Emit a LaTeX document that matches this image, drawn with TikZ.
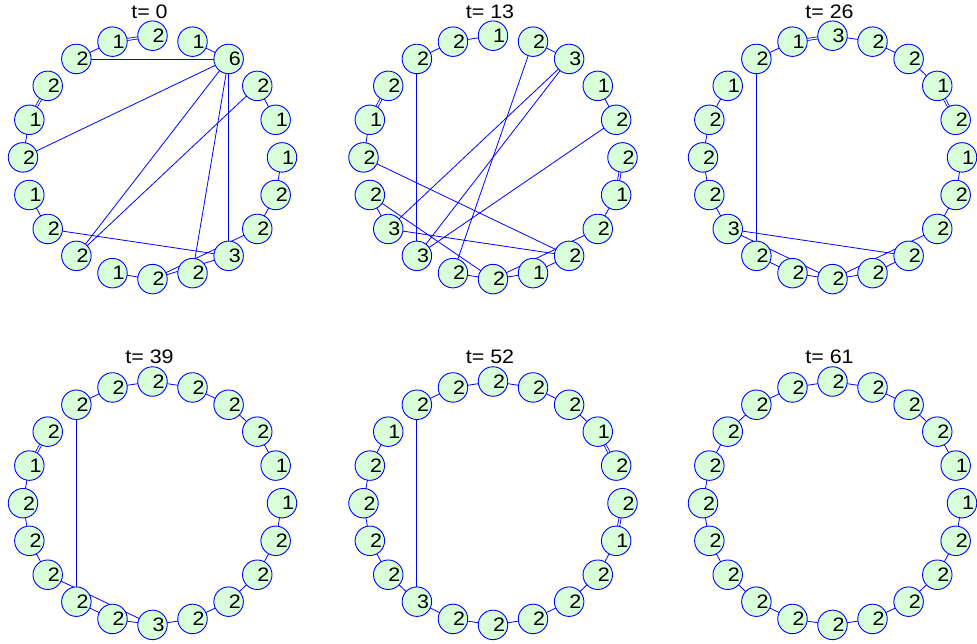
\documentclass[tikz,border=0pt]{standalone}
\usepackage{fontspec}
\setmainfont{Liberation Sans}
\newfontfamily\plotfont[FakeStretch=1.1]{Liberation Sans}
\usepackage{tikz}
\usetikzlibrary{backgrounds}
\definecolor{ringfill}{RGB}{217,255,217}
\definecolor{ringblue}{RGB}{0,0,255}

% one ring of 20 agents: prefix, centre x, centre y, time, labels
\newcommand{\agentring}[5]{%
  \node[steptitle] (#1t) at (#2-3,#3-146) {t= #4};
  \foreach \lab [count=\k from 0] in {#5} {
    \node[agent] (#1\k) at ({#2+129.5*cos(90-18*\k)},{#3-121.7*sin(90-18*\k)}) {};
    \node[agentnum] (#1n\k) at (#1\k.center) {\lab};
  }}
\newcommand{\ringlinks}[2]{%
  \begin{scope}[on background layer]
    \foreach \i/\j in {#2} \draw[link] (#1\i.center) -- (#1\j.center);
  \end{scope}}
\newcommand{\ringtwins}[2]{%
  \begin{scope}[on background layer]
    \foreach \i/\j in {#2} \draw[link,twin] (#1\i.center) -- (#1\j.center);
  \end{scope}}

\begin{document}
\begin{tikzpicture}[
    x=1pt, y=-1pt,
    agent/.style={circle,draw=ringblue,fill=ringfill,line width=0.9pt,
                  minimum size=29.5pt,inner sep=0pt},
    agentnum/.style={anchor=west,inner sep=0pt,font=\plotfont\fontsize{19.5}{22}\selectfont},
    steptitle/.style={inner sep=0pt,font=\plotfont\fontsize{19.5}{22}\selectfont},
    link/.style={draw=ringblue,line width=0.8pt},
    twin/.style={double=white,double distance=1.3pt},
  ]
  \useasboundingbox (0,0) rectangle (977,644);

  % top row
  \agentring{a}{152.5}{157.4}{0}{2,1,6,2,1,1,2,2,3,2,2,1,2,2,1,2,1,2,2,1}
  \ringlinks{a}{18/19,18/2,1/2,2/15,2/12,3/12,2/9,2/8,3/4,5/6,6/7,10/7,10/8,
    13/8,13/14,15/16,11/10}
  \ringtwins{a}{19/0,16/17}

  \agentring{b}{493}{157.4}{13}{1,2,3,1,2,2,1,2,2,1,2,2,3,3,2,2,1,2,2,2}
  \ringlinks{b}{0/19,19/18,18/12,16/15,15/8,14/13,14/10,13/2,13/8,12/2,12/4,
    11/1,11/10,10/9,10/7,9/8,1/2,3/4,6/7}
  \ringtwins{b}{17/16,5/6}

  \agentring{c}{832.5}{157.4}{26}{3,2,2,1,2,1,2,2,2,2,2,2,2,3,2,2,2,1,2,1}
  \ringlinks{c}{0/1,1/2,2/3,5/6,6/7,13/8,18/12,13/10,12/11,11/10,10/9,
    10/7,9/8,14/13,15/14,16/15,17/16,18/19}
  \ringtwins{c}{19/0,3/4}

  % bottom row
  \agentring{d}{152.5}{503.2}{39}{2,2,2,2,1,1,2,2,2,2,3,2,2,2,2,2,1,2,2,2}
  \ringlinks{d}{0/1,1/2,2/3,3/4,5/6,6/7,7/8,8/9,9/10,10/11,11/12,12/18,
    13/10,13/14,14/15,15/16,18/19,19/0}
  \ringtwins{d}{16/17}

  \agentring{e}{493}{503.2}{52}{2,2,2,1,2,2,1,2,2,2,2,2,3,2,2,2,2,1,2,2}
  \ringlinks{e}{0/1,1/2,2/3,6/7,7/8,8/9,9/10,10/11,11/12,12/18,12/13,13/14,
    14/15,15/16,16/17,18/19,19/0}
  \ringtwins{e}{3/4,5/6}

  \agentring{f}{832.5}{503.2}{61}{2,2,2,2,1,1,2,2,2,2,2,2,2,2,2,2,2,2,2,2}
  \ringlinks{f}{0/1,1/2,2/3,3/4,5/6,6/7,7/8,8/9,9/10,10/11,11/12,12/13,13/14,
    14/15,15/16,16/17,17/18,18/19,19/0}
\end{tikzpicture}
\end{document}
